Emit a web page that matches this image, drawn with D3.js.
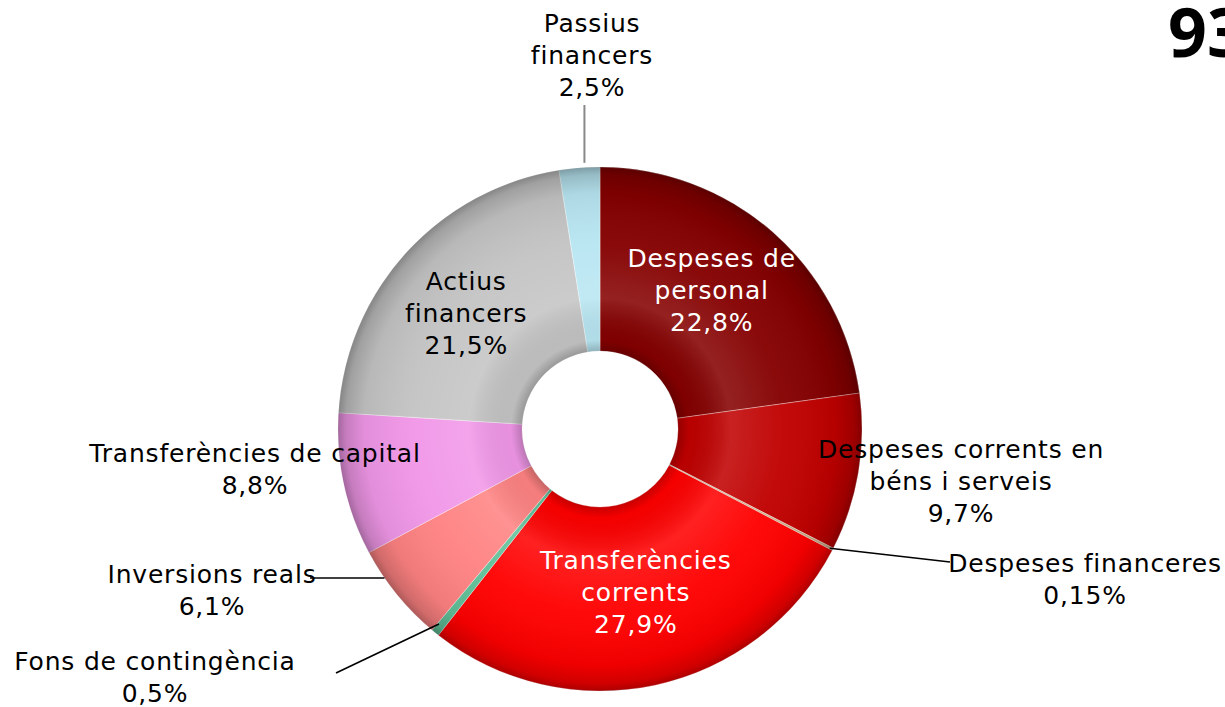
<!DOCTYPE html>
<html>
<head>
<meta charset="utf-8">
<script src="https://cdn.jsdelivr.net/npm/d3@7"></script>
<style>
  html, body { margin: 0; padding: 0; background: #fff; }
  svg { display: block; font-family: "DejaVu Sans", Verdana, sans-serif; }
</style>
</head>
<body>
<div id="chart"></div>
<script>
// chart data
const categories = [
  'Despeses de personal',
  'Despeses corrents en béns i serveis',
  'Despeses financeres',
  'Transferències corrents',
  'Fons de contingència',
  'Inversions reals',
  'Transferències de capital',
  'Actius financers',
  'Passius financers'
]
const shares = [22.8, 9.7, 0.15, 27.9, 0.5, 6.1, 8.8, 21.5, 2.5]
const shareLabels = ['22,8%', '9,7%', '0,15%', '27,9%', '0,5%', '6,1%', '8,8%', '21,5%', '2,5%']
const labelLines = [
  ['Despeses de', 'personal'],
  ['Despeses corrents en', 'béns i serveis'],
  ['Despeses financeres'],
  ['Transferències', 'corrents'],
  ['Fons de contingència'],
  ['Inversions reals'],
  ['Transferències de capital'],
  ['Actius', 'financers'],
  ['Passius', 'financers']
]
const pageNumber = '93'

const colors = ['#850000', '#c00000', '#c8a880', '#ff0000', '#60c098', '#ff8282', '#f197e8', '#c4c4c4', '#b8e6f2']
const textColors = ['#fff', '#000', '#000', '#fff', '#000', '#000', '#000', '#000', '#000']

const width = 1225
const height = 707
const cx = 600
const cy = 429
const outerR = 262
const innerR = 78
const lineH = 32

const svg = d3.select('#chart').append('svg')
  .attr('width', width)
  .attr('height', height)

// radial shading that gives the ring its rounded look
const shade = svg.append('defs').append('radialGradient')
  .attr('id', 'shade')
  .attr('gradientUnits', 'userSpaceOnUse')
  .attr('cx', 0).attr('cy', 0).attr('r', outerR)
const stops = [
  [innerR / outerR, '#000', 0.22],
  [0.34, '#000', 0.04],
  [0.5, '#fff', 0.13],
  [0.7, '#fff', 0.04],
  [0.9, '#000', 0.06],
  [0.97, '#000', 0.18],
  [1, '#000', 0.32]
]
stops.forEach(s => shade.append('stop')
  .attr('offset', s[0]).attr('stop-color', s[1]).attr('stop-opacity', s[2]))

const pie = d3.pie().sort(null).value(d => d)
const arcs = pie(shares)
const arc = d3.arc().innerRadius(innerR).outerRadius(outerR)

const g = svg.append('g').attr('transform', `translate(${cx},${cy})`)

g.selectAll('path.slice')
  .data(arcs)
  .enter()
  .append('path')
  .attr('class', 'slice')
  .attr('d', arc)
  .attr('fill', (d, i) => colors[i])
  .attr('stroke', 'rgba(255,255,255,0.35)')
  .attr('stroke-width', 1)

g.append('path')
  .attr('d', arc({ startAngle: 0, endAngle: 2 * Math.PI }))
  .attr('fill', 'url(#shade)')

// label anchors: inside labels use the ring centroid, outside ones are placed by hand
const midAngle = d => (d.startAngle + d.endAngle) / 2
const onRing = (a, r) => [r * Math.sin(a), -r * Math.cos(a)]
const outside = {
  1: { x: 361, y: 52 },
  2: { x: 485, y: 150 },
  4: { x: -445, y: 248 },
  5: { x: -388, y: 161 },
  6: { x: -345, y: 40 },
  8: { x: -8, y: -374 }
}

const labelG = g.append('g')
arcs.forEach((d, i) => {
  const lines = labelLines[i].concat([shareLabels[i]])
  let x, y
  if (outside[i]) {
    x = outside[i].x
    y = outside[i].y
  } else {
    [x, y] = arc.centroid(d)
    if (i === 0) y -= 11
    if (i === 3) y -= 3
    if (i === 7) { x -= 8; y -= 2 }
  }
  const t = labelG.append('text')
    .attr('text-anchor', 'middle')
    .attr('font-size', 25)
    .attr('letter-spacing', 0.8)
    .attr('fill', textColors[i])
  lines.forEach((l, k) => {
    t.append('tspan')
      .attr('x', x)
      .attr('y', y + (k - (lines.length - 1) / 2) * lineH)
      .attr('dy', '0.36em')
      .text(l)
  })
})

// leader lines
const leaders = g.append('g').attr('fill', 'none')
{
  // Despeses financeres
  const p = onRing(midAngle(arcs[2]), outerR)
  leaders.append('line').attr('x1', p[0] - 3).attr('y1', p[1] - 1).attr('x2', 350).attr('y2', 133)
    .attr('stroke', '#000').attr('stroke-width', 1.6)
  // Fons de contingència
  const f = onRing(midAngle(arcs[4]), outerR - 6)
  leaders.append('line').attr('x1', f[0]).attr('y1', f[1] - 4).attr('x2', -264).attr('y2', 244)
    .attr('stroke', '#000').attr('stroke-width', 1.6)
  // Inversions reals: horizontal to the ring edge
  const iy = 149
  const ix = -Math.sqrt(outerR * outerR - iy * iy)
  leaders.append('line').attr('x1', ix).attr('y1', iy).attr('x2', -290).attr('y2', iy)
    .attr('stroke', '#000').attr('stroke-width', 1.6)
  // Passius financers: vertical
  const pp = onRing(midAngle(arcs[8]), outerR)
  leaders.append('line').attr('x1', pp[0] + 5).attr('y1', pp[1] - 5).attr('x2', pp[0] + 5).attr('y2', -324)
    .attr('stroke', '#888').attr('stroke-width', 2)
}

svg.append('text')
  .attr('x', 1168)
  .attr('y', 57)
  .attr('font-family', '"Open Sans", sans-serif')
  .attr('font-size', 68)
  .attr('font-weight', 'bold')
  .attr('fill', '#000')
  .text(pageNumber)
</script>
</body>
</html>
